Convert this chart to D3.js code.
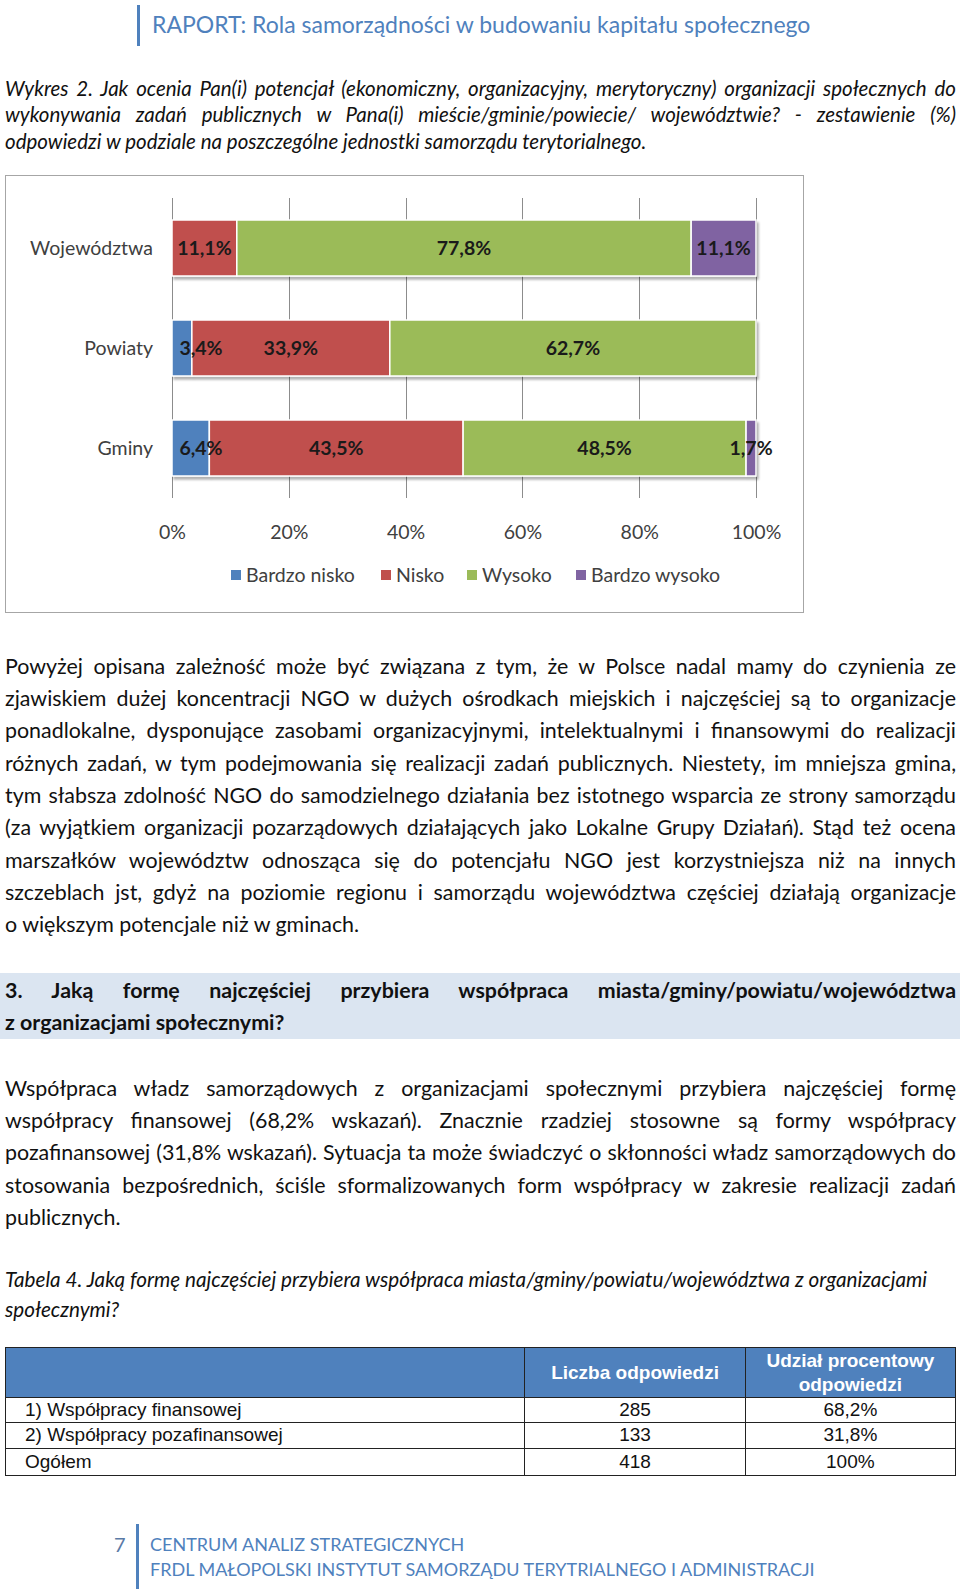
<!DOCTYPE html>
<html>
<head>
<meta charset="utf-8">
<script src="https://cdn.jsdelivr.net/npm/d3@7"></script>
<style>
  body { margin: 0; background: #fff; }
  #page { position: relative; width: 960px; height: 1589px; overflow: hidden; font-family: Lato, "Open Sans", sans-serif; color: #111; }
  .ln { position: absolute; left: 5px; width: 951px; white-space: nowrap; }
  .just { text-align: justify; text-align-last: justify; }
  svg { position: absolute; left: 0; top: 0; }
  table { position: absolute; border-collapse: collapse; font-family: "Liberation Sans Narrow", "Liberation Sans", Arial, sans-serif; font-size: 19px; }
  td { border: 1px solid #222; padding: 0; }
</style>
</head>
<body>
<div id="page"></div>
<script>
// chart data
var categories = ["Województwa", "Powiaty", "Gminy"];
var seriesNames = ["Bardzo nisko", "Nisko", "Wysoko", "Bardzo wysoko"];
var seriesColors = ["#4f81bd", "#c0504d", "#9bbb59", "#8064a2"];
var bardzoNisko = [0, 3.4, 6.4];
var nisko = [11.1, 33.9, 43.5];
var wysoko = [77.8, 62.7, 48.5];
var bardzoWysoko = [11.1, 0, 1.7];
var xTicks = [0, 0.2, 0.4, 0.6, 0.8, 1];

// table data
var tableHead = ["", "Liczba odpowiedzi", "Udział procentowy odpowiedzi"];
var tableLabels = ["1) Współpracy finansowej", "2) Współpracy pozafinansowej", "Ogółem"];
var tableCounts = [285, 133, 418];
var tableShares = ["68,2%", "31,8%", "100%"];

// page text
var headerTitle = "RAPORT: Rola samorządności w budowaniu kapitału społecznego";
var captionLines = [
  "Wykres 2. Jak ocenia Pan(i) potencjał (ekonomiczny, organizacyjny, merytoryczny) organizacji społecznych do",
  "wykonywania zadań publicznych w Pana(i) mieście/gminie/powiecie/ województwie? - zestawienie (%)",
  "odpowiedzi w podziale na poszczególne jednostki samorządu terytorialnego."
];
var para1 = [
  "Powyżej opisana zależność może być związana z tym, że w Polsce nadal mamy do czynienia ze",
  "zjawiskiem dużej koncentracji NGO w dużych ośrodkach miejskich i najczęściej są to organizacje",
  "ponadlokalne, dysponujące zasobami organizacyjnymi, intelektualnymi i finansowymi do realizacji",
  "różnych zadań, w tym podejmowania się realizacji zadań publicznych. Niestety, im mniejsza gmina,",
  "tym słabsza zdolność NGO do samodzielnego działania bez istotnego wsparcia ze strony samorządu",
  "(za wyjątkiem organizacji pozarządowych działających jako Lokalne Grupy Działań). Stąd też ocena",
  "marszałków województw odnosząca się do potencjału NGO jest korzystniejsza niż na innych",
  "szczeblach jst, gdyż na poziomie regionu i samorządu województwa częściej działają organizacje",
  "o większym potencjale niż w gminach."
];
var headingLines = [
  "3. Jaką formę najczęściej przybiera współpraca miasta/gminy/powiatu/województwa",
  "z organizacjami społecznymi?"
];
var para2 = [
  "Współpraca władz samorządowych z organizacjami społecznymi przybiera najczęściej formę",
  "współpracy finansowej (68,2% wskazań). Znacznie rzadziej stosowne są formy współpracy",
  "pozafinansowej (31,8% wskazań). Sytuacja ta może świadczyć o skłonności władz samorządowych do",
  "stosowania bezpośrednich, ściśle sformalizowanych form współpracy w zakresie realizacji zadań",
  "publicznych."
];
var tableCaption = [
  "Tabela 4. Jaką formę najczęściej przybiera współpraca miasta/gminy/powiatu/województwa z organizacjami",
  "społecznymi?"
];
var footerLines = ["CENTRUM ANALIZ STRATEGICZNYCH", "FRDL MAŁOPOLSKI INSTYTUT SAMORZĄDU TERYTRIALNEGO I ADMINISTRACJI"];

var page = d3.select("#page");

// text block, one div per line; justified lines except the last (or none)
function textBlock(lines, y0, lh, style, justify) {
  lines.forEach(function (t, i) {
    var last = i === lines.length - 1;
    page.append("div")
      .attr("class", "ln" + ((justify && !last) ? " just" : ""))
      .style("top", (y0 + i * lh - lh / 2) + "px")
      .style("height", lh + "px")
      .style("line-height", lh + "px")
      .style("font-size", style.size + "px")
      .style("font-style", style.italic ? "italic" : "normal")
      .style("font-weight", style.bold ? "bold" : "normal")
      .text(t);
  });
}

// header
page.append("div").style("position", "absolute").style("left", "137px").style("top", "5px")
  .style("width", "3px").style("height", "41px").style("background", "#4f81bd");
page.append("div").style("position", "absolute").style("left", "152px").style("top", "10px")
  .style("font-size", "23px").style("line-height", "28px").style("color", "#4f81bd")
  .text(headerTitle);

textBlock(captionLines, 88, 26.5, {size: 20.5, italic: true}, true);

// heading band
page.append("div").style("position", "absolute").style("left", "0px").style("top", "973px")
  .style("width", "960px").style("height", "66px").style("background", "#dbe5f1");

textBlock(para1, 666, 32.3, {size: 21.4}, true);
textBlock(headingLines, 990, 32, {size: 21.4, bold: true}, true);
textBlock(para2, 1088, 32.2, {size: 21.4}, true);
textBlock(tableCaption, 1279, 30, {size: 20.7, italic: true}, false);

// ---- chart ----
var svg = page.append("svg").attr("width", 960).attr("height", 620);

svg.append("rect")
  .attr("x", 5.5).attr("y", 175.5).attr("width", 798).attr("height", 437)
  .attr("fill", "#fff").attr("stroke", "#a6a6a6");

var defs = svg.append("defs");
var f = defs.append("filter").attr("id", "shadow").attr("x", "-5%").attr("y", "-20%").attr("width", "110%").attr("height", "150%");
f.append("feDropShadow").attr("dx", 2).attr("dy", 3).attr("stdDeviation", 1.2)
  .attr("flood-color", "#000").attr("flood-opacity", 0.3);

var x = d3.scaleLinear().domain([0, 1]).range([172, 756]);
var y = d3.scaleBand().domain(categories).range([198, 498]).paddingInner(0.44).paddingOuter(0.22);

// gridlines
svg.append("g").selectAll("line").data(xTicks).join("line")
  .attr("x1", function (d) { return Math.round(x(d)) + 0.5; })
  .attr("x2", function (d) { return Math.round(x(d)) + 0.5; })
  .attr("y1", 198).attr("y2", 498)
  .attr("stroke", "#8c8c8c").attr("stroke-width", 1);

var rows = categories.map(function (c, i) {
  return {cat: c, s0: bardzoNisko[i], s1: nisko[i], s2: wysoko[i], s3: bardzoWysoko[i]};
});
var stack = d3.stack().keys(["s0", "s1", "s2", "s3"]).offset(d3.stackOffsetExpand);
var series = stack(rows);

// bars per category (group gets the shadow)
var barG = svg.append("g");
categories.forEach(function (c, ci) {
  var g = barG.append("g").attr("filter", "url(#shadow)");
  series.forEach(function (s, si) {
    var d = s[ci];
    if (d[1] - d[0] <= 0) return;
    g.append("rect")
      .attr("x", x(d[0])).attr("width", x(d[1]) - x(d[0]))
      .attr("y", y(c)).attr("height", y.bandwidth())
      .attr("fill", seriesColors[si]).attr("stroke", "#fff").attr("stroke-width", 1.5);
  });
});

// value labels
var fmt = function (v) { return String(v).replace(".", ",") + "%"; };
var rawSeries = [bardzoNisko, nisko, wysoko, bardzoWysoko];
var labG = svg.append("g").attr("font-family", "Lato, sans-serif").attr("font-weight", "bold")
  .attr("font-size", 19.5).attr("fill", "#1a1a1a").attr("text-anchor", "middle");
series.forEach(function (s, si) {
  categories.forEach(function (c, ci) {
    var v = rawSeries[si][ci];
    if (!v) return;
    var d = s[ci];
    var cx = Math.max((x(d[0]) + x(d[1])) / 2, x(0) + 29);
    labG.append("text").attr("x", cx).attr("y", y(c) + y.bandwidth() / 2)
      .attr("dy", "0.36em").text(fmt(v));
  });
});

// category axis labels
svg.append("g").attr("font-family", "Lato, sans-serif").attr("font-size", 19.5).attr("fill", "#404040")
  .attr("text-anchor", "end")
  .selectAll("text").data(categories).join("text")
  .attr("x", 153).attr("y", function (d) { return y(d) + y.bandwidth() / 2; })
  .attr("dy", "0.36em").text(function (d) { return d; });

// value axis
var xAxis = d3.axisBottom(x).tickValues(xTicks).tickSize(0).tickPadding(0)
  .tickFormat(function (d) { return Math.round(d * 100) + "%"; });
var ax = svg.append("g").attr("transform", "translate(0,532)").call(xAxis);
ax.select(".domain").remove();
ax.selectAll("text").attr("font-family", "Lato, sans-serif").attr("font-size", 19.5)
  .attr("fill", "#404040").attr("dy", "0.36em").attr("y", 0);

// legend
var legendX = [231, 381, 467, 576];
var leg = svg.append("g").attr("font-family", "Lato, sans-serif").attr("font-size", 19.5).attr("fill", "#404040");
seriesNames.forEach(function (n, i) {
  var lg = leg.append("g").attr("transform", "translate(" + legendX[i] + ",575)");
  lg.append("rect").attr("x", 0).attr("y", -5).attr("width", 10).attr("height", 10).attr("fill", seriesColors[i]);
  lg.append("text").attr("x", 15).attr("dy", "0.36em").text(n);
});

// ---- table ----
var table = page.append("table").style("left", "5px").style("top", "1347px").style("width", "951px");
var head = table.append("tr").style("height", "50px").style("background", "#4f81bd")
  .style("color", "#fff").style("font-weight", "bold").style("font-size", "19px");
head.selectAll("td").data(tableHead).join("td")
  .style("width", function (d, i) { return [521, 220, 210][i] + "px"; })
  .style("text-align", "center").style("line-height", "24px")
  .style("border-left-color", function (d, i) { return i ? "#fff" : "#222"; })
  .html(function (d, i) { return i === 2 ? "Udział procentowy<br>odpowiedzi" : d; });
var rowH = [25, 25.5, 27];
tableLabels.forEach(function (l, i) {
  var tr = table.append("tr").style("height", rowH[i] + "px").style("line-height", "22px");
  tr.append("td").style("padding-left", "19px").text(l);
  tr.append("td").style("text-align", "center").text(tableCounts[i]);
  tr.append("td").style("text-align", "center").text(tableShares[i]);
});

// footer
page.append("div").style("position", "absolute").style("left", "114px").style("top", "1531px")
  .style("font-size", "20px").style("line-height", "26px").style("color", "#5a7aa6").text("7");
page.append("div").style("position", "absolute").style("left", "136px").style("top", "1524px")
  .style("width", "3px").style("height", "65px").style("background", "#4f81bd");
footerLines.forEach(function (t, i) {
  page.append("div").style("position", "absolute").style("left", "150px")
    .style("top", (1531 + i * 25) + "px").style("font-size", "18px").style("line-height", "26px")
    .style("color", "#4f81bd").text(t);
});
</script>
</body>
</html>
